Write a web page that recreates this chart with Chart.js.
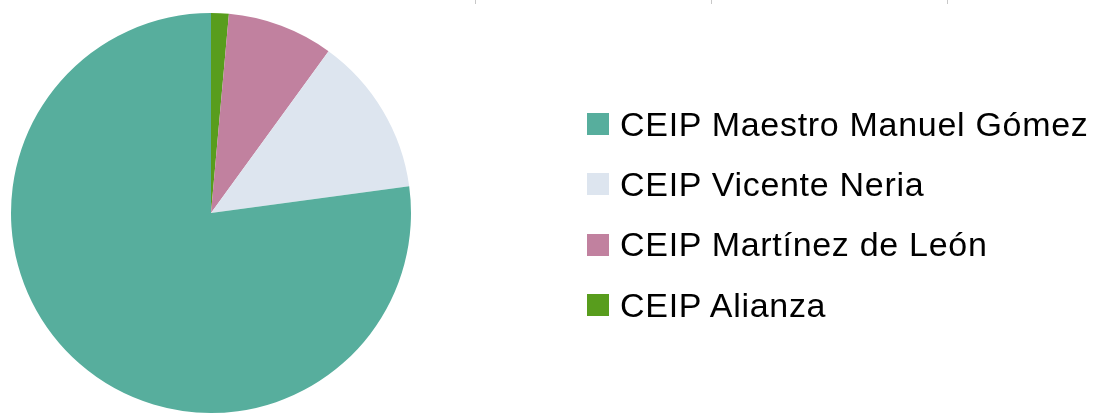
<!DOCTYPE html>
<html>
<head>
<meta charset="utf-8">
<script src="https://cdn.jsdelivr.net/npm/chart.js@4/dist/chart.umd.min.js"></script>
<style>
    html, body {
        margin: 0;
        padding: 0;
        background: #fff;
    }
    #wrap {
        position: relative;
        width: 1102px;
        height: 414px;
    }
    #pieChart1 {
        position: absolute;
        left: 0;
        top: 0;
    }
    #legend1 {
        position: absolute;
        left: 587px;
        top: 94px;
        font-family: "Liberation Sans", Arial, sans-serif;
        font-size: 34px;
        letter-spacing: 0.7px;
        color: #000;
    }
    #legend1 .row {
        display: flex;
        align-items: center;
        height: 60.3px;
        white-space: nowrap;
    }
    #legend1 .box {
        width: 22px;
        height: 22px;
        margin-right: 11px;
    }
    .tick {
        position: absolute;
        top: 0;
        width: 1px;
        height: 4px;
        background: #c8c8c8;
    }
</style>
</head>
<body>
<div id="wrap">
    <canvas id="pieChart1" width="1102" height="414"></canvas>
    <div id="legend1"></div>
    <div class="tick" style="left: 475px"></div>
    <div class="tick" style="left: 711px"></div>
    <div class="tick" style="left: 947px"></div>
</div>
<script>
// legend order (as in the reference)
var labels_schools = [
    "CEIP Maestro Manuel Gómez",
    "CEIP Vicente Neria",
    "CEIP Martínez de León",
    "CEIP Alianza",
];
var data_schools = [54, 9, 6, 1];
var colors_schools = ["#57ae9d", "#dde5ef", "#c1819f", "#589d1d"];

// the original pie runs counter-clockwise from 12 o'clock,
// chart.js runs clockwise, so feed the slices reversed
var pieLabels = labels_schools.slice().reverse();
var pieValues = data_schools.slice().reverse();
var pieColors = colors_schools.slice().reverse();

//-------------
//- PIE CHART -
//-------------
var pieOptions = {
    responsive: false,
    animation: false,
    layout: {
        padding: { left: 11, top: 13, right: 691, bottom: 1 },
    },
    plugins: {
        legend: { display: false },
        tooltip: { enabled: false },
    },
};

var pieChartCanvas1 = document.getElementById("pieChart1").getContext("2d");
new Chart(pieChartCanvas1, {
    type: "pie",
    data: {
        labels: pieLabels,
        datasets: [
            {
                data: pieValues,
                backgroundColor: pieColors,
                borderWidth: 0,
            },
        ],
    },
    options: pieOptions,
});

// legend
var legend = document.getElementById("legend1");
labels_schools.forEach(function (label, i) {
    var row = document.createElement("div");
    row.className = "row";
    var box = document.createElement("div");
    box.className = "box";
    box.style.background = colors_schools[i];
    var txt = document.createElement("span");
    txt.textContent = label;
    row.appendChild(box);
    row.appendChild(txt);
    legend.appendChild(row);
});
</script>
</body>
</html>
